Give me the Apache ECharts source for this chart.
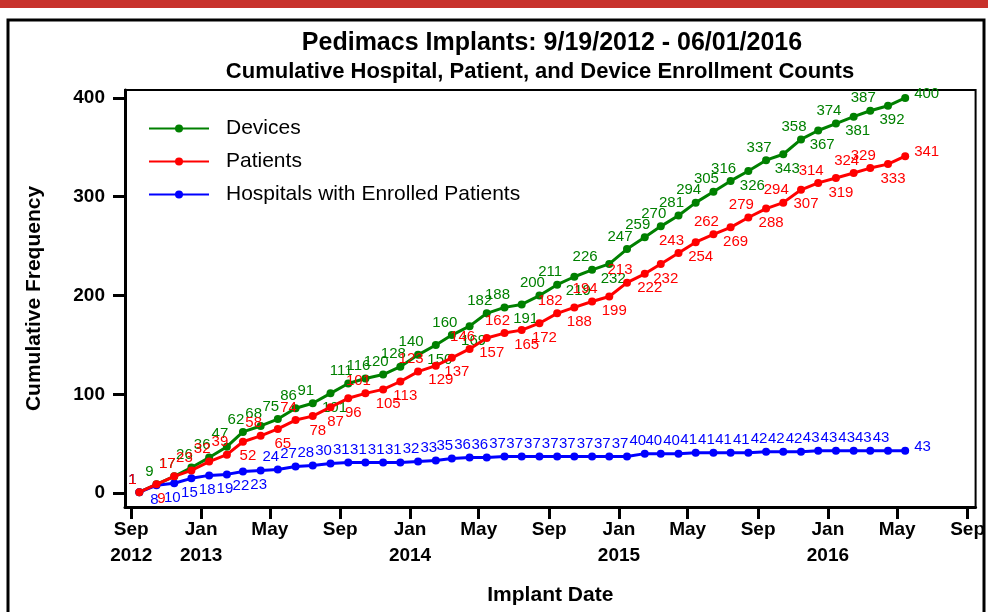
<!DOCTYPE html>
<html>
<head>
<meta charset="utf-8">
<script src="https://cdn.jsdelivr.net/npm/echarts@6/dist/echarts.min.js"></script>
<style>
  html, body { margin: 0; padding: 0; background: #fff; }
  #chart { width: 988px; height: 612px; }
</style>
</head>
<body>
<div id="chart"></div>
<script>
// one point per month, plotted mid-month
var dates = [
    '2012-09-15', '2012-10-15', '2012-11-15', '2012-12-15',
    '2013-01-15', '2013-02-15', '2013-03-15', '2013-04-15', '2013-05-15', '2013-06-15',
    '2013-07-15', '2013-08-15', '2013-09-15', '2013-10-15', '2013-11-15', '2013-12-15',
    '2014-01-15', '2014-02-15', '2014-03-15', '2014-04-15', '2014-05-15', '2014-06-15',
    '2014-07-15', '2014-08-15', '2014-09-15', '2014-10-15', '2014-11-15', '2014-12-15',
    '2015-01-15', '2015-02-15', '2015-03-15', '2015-04-15', '2015-05-15', '2015-06-15',
    '2015-07-15', '2015-08-15', '2015-09-15', '2015-10-15', '2015-11-15', '2015-12-15',
    '2016-01-15', '2016-02-15', '2016-03-15', '2016-04-15', '2016-05-15'
]
var devices = [1, 9, 17, 26, 36, 47, 62, 68, 75, 86, 91, 101, 111, 116, 120, 128, 140, 150,
    160, 169, 182, 188, 191, 200, 211, 219, 226, 232, 247, 259, 270, 281, 294, 305, 316,
    326, 337, 343, 358, 367, 374, 381, 387, 392, 400]
var patients = [1, 9, 17, 23, 32, 39, 52, 58, 65, 74, 78, 87, 96, 101, 105, 113, 123, 129,
    137, 146, 157, 162, 165, 172, 182, 188, 194, 199, 213, 222, 232, 243, 254, 262, 269,
    279, 288, 294, 307, 314, 319, 324, 329, 333, 341]
var hospitals = [1, 8, 10, 15, 18, 19, 22, 23, 24, 27, 28, 30, 31, 31, 31, 31, 32, 33,
    35, 36, 36, 37, 37, 37, 37, 37, 37, 37, 37, 40, 40, 40, 41, 41, 41, 41, 42, 42, 42,
    43, 43, 43, 43, 43, 43]
var tickDates = ['2012-09-01', '2013-01-01', '2013-05-01', '2013-09-01', '2014-01-01',
    '2014-05-01', '2014-09-01', '2015-01-01', '2015-05-01', '2015-09-01', '2016-01-01',
    '2016-05-01', '2016-09-01']
var yTicks = [0, 100, 200, 300, 400]

// which point labels sit under the line
var labelBelow = {
    devices: [11, 17, 19, 22, 25, 27, 35, 37, 39, 41, 43],
    patients: [1, 6, 8, 10, 11, 12, 14, 15, 17, 18, 20, 22, 23, 25, 27, 29, 30, 32, 34, 36, 38, 40, 43],
    hospitals: [1, 2, 3, 4, 5, 6, 7]
}

var months = ['Jan', 'Feb', 'Mar', 'Apr', 'May', 'Jun', 'Jul', 'Aug', 'Sep', 'Oct', 'Nov', 'Dec']
var FONT = '"Liberation Sans", Arial, sans-serif'

function ts(s) {
    var p = s.split('-')
    return Date.UTC(+p[0], +p[1] - 1, +p[2])
}

function buildData(values, below, belowOffset) {
    var last = values.length - 1
    return values.map(function (v, i) {
        var item = { value: [ts(dates[i]), v] }
        if (i == last) {
            item.label = { position: 'right', offset: [2, -4] }
        } else if (below.indexOf(i) >= 0) {
            item.label = { position: 'bottom', offset: belowOffset }
        } else {
            item.label = { position: 'top', offset: [-7, 2] }
        }
        return item
    })
}

function lineSeries(name, color, values, below, belowOffset, z) {
    return {
        name: name,
        type: 'line',
        z: z,
        data: buildData(values, below, belowOffset),
        symbol: 'circle',
        symbolSize: 8,
        itemStyle: { color: color },
        lineStyle: { color: color, width: 3 },
        label: {
            show: true,
            color: color,
            fontFamily: FONT,
            fontSize: 15,
            distance: 3,
            formatter: function (p) { return p.value[1] }
        },
        emphasis: { disabled: true },
        animation: false
    }
}

var chart = echarts.init(document.getElementById('chart'))

var option = {
    backgroundColor: '#fff',
    animation: false,
    title: [{
        text: 'Pedimacs Implants: 9/19/2012 - 06/01/2016',
        left: 547,
        top: 26,
        textAlign: 'center',
        textStyle: { fontFamily: FONT, fontWeight: 'bold', fontSize: 25, color: '#000' }
    }, {
        text: 'Cumulative Hospital, Patient, and Device Enrollment Counts',
        left: 535,
        top: 56,
        textAlign: 'center',
        textStyle: { fontFamily: FONT, fontWeight: 'bold', fontSize: 22, color: '#000' }
    }],
    legend: {
        data: ['Devices', 'Patients', 'Hospitals with Enrolled Patients'],
        orient: 'vertical',
        left: 148,
        top: 118,
        padding: 0,
        itemWidth: 60,
        itemHeight: 10,
        itemGap: 12,
        selectedMode: false,
        textStyle: {
            fontFamily: FONT, fontSize: 21, color: '#000', lineHeight: 21,
            padding: [0, 0, 0, 12]
        }
    },
    grid: {
        left: 125, right: 11, top: 90, bottom: 105,
        show: true, borderColor: '#000', borderWidth: 2
    },
    xAxis: {
        type: 'value',
        min: ts('2012-08-21'),
        max: ts('2016-09-15'),
        name: 'Implant Date',
        nameLocation: 'middle',
        nameGap: 78,
        nameTextStyle: { fontFamily: FONT, fontWeight: 'bold', fontSize: 21, color: '#000' },
        splitLine: { show: false },
        axisLine: { show: true, onZero: false, lineStyle: { color: '#000', width: 3 } },
        axisTick: {
            show: true, length: 12, lineStyle: { color: '#000', width: 3 },
            customValues: tickDates.map(ts)
        },
        axisLabel: {
            customValues: tickDates.map(ts),
            margin: 10,
            fontFamily: FONT, fontWeight: 'bold', fontSize: 19, color: '#000', lineHeight: 26,
            formatter: function (v) {
                var d = new Date(v)
                var m = d.getUTCMonth()
                var txt = months[m]
                if (m == 0 || v == ts(tickDates[0])) txt += '\n' + d.getUTCFullYear()
                return txt
            }
        }
    },
    yAxis: {
        type: 'value',
        min: -14,
        max: 408,
        name: 'Cumulative Frequency',
        nameLocation: 'middle',
        nameGap: 80,
        nameTextStyle: { fontFamily: FONT, fontWeight: 'bold', fontSize: 21, color: '#000' },
        splitLine: { show: false },
        axisLine: { show: true, onZero: false, lineStyle: { color: '#000', width: 3 } },
        axisTick: {
            show: true, length: 12, lineStyle: { color: '#000', width: 3 },
            customValues: yTicks
        },
        axisLabel: {
            customValues: yTicks,
            margin: 20,
            fontFamily: FONT, fontWeight: 'bold', fontSize: 19, color: '#000'
        }
    },
    graphic: [{
        type: 'rect',
        shape: { x: 0, y: 0, width: 988, height: 8 },
        style: { fill: '#c8322c' },
        silent: true
    }, {
        type: 'rect',
        shape: { x: 8, y: 20, width: 976, height: 620 },
        style: { fill: null, stroke: '#000', lineWidth: 3 },
        silent: true
    }],
    series: [
        lineSeries('Devices', '#008000', devices, labelBelow.devices, [4, 0], 2),
        lineSeries('Patients', '#ff0000', patients, labelBelow.patients, [5, 0], 4),
        lineSeries('Hospitals with Enrolled Patients', '#0000ff', hospitals, labelBelow.hospitals, [-2, 0], 3)
    ]
}

chart.setOption(option)
</script>
</body>
</html>
